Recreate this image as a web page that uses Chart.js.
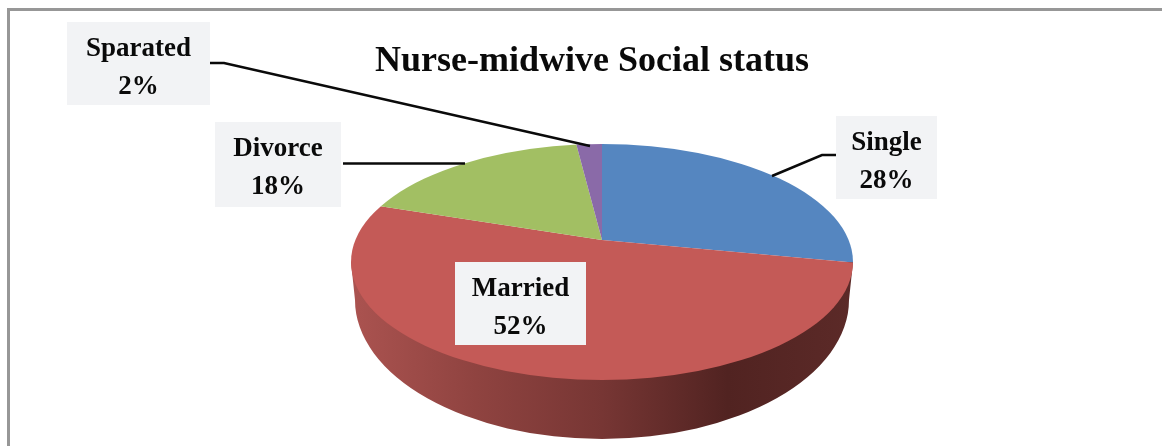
<!DOCTYPE html>
<html>
<head>
<meta charset="utf-8">
<style>
  html, body { margin: 0; padding: 0; background: #ffffff; }
  #wrap { width: 1162px; height: 446px; overflow: hidden; }
  canvas { filter: blur(0.6px); }
</style>
<script src="https://cdn.jsdelivr.net/npm/chart.js@4/dist/chart.umd.js"></script>
</head>
<body>
<div id="wrap"><canvas id="chart"></canvas></div>
<script>
// Values
const categories = ['Single', 'Married', 'Divorce', 'Sparated'];
const shares = [28, 52, 18, 2];
const sliceColors = ['#5586c0', '#c45a57', '#a2bf63', '#8a6aa8'];
const chartTitle = 'Nurse-midwive Social status';

// Settings for the tilted pie
const pieStyle = {
    apexX: 602, apexY: 240,     // where the slices meet
    tilt: 0.47,                 // vertical squash of the slices
    rimX: 602, rimY: 262,       // top face ellipse
    rimRx: 251, rimRy: 118,
    baseX: 602, baseY: 300,     // bottom edge of the side wall
    baseRx: 247, baseRy: 139
};

// Label boxes, same order as categories
const labelBoxes = [
    { x: 836, y: 116, w: 101, h: 83 },
    { x: 455, y: 262, w: 131, h: 83 },
    { x: 215, y: 122, w: 126, h: 85 },
    { x: 67, y: 22, w: 143, h: 83 }
];
const leaderLines = [
    [[836, 155], [822, 155], [772, 176]],
    [],
    [[343, 163.5], [465, 163.5]],
    [[210, 63], [224, 63], [590, 146]]
];

// Grey frame, only top and left show in the crop
const framePlugin = {
    id: 'frame',
    beforeDraw: (chart) => {
        const ctx = chart.ctx;
        ctx.save();
        ctx.strokeStyle = '#979797';
        ctx.lineWidth = 3;
        ctx.beginPath();
        ctx.moveTo(8.5, 446);
        ctx.lineTo(8.5, 9.5);
        ctx.lineTo(1162, 9.5);
        ctx.stroke();
        ctx.restore();
    }
};

// Draws the side wall, then squashes the doughnut controller's arcs into the top face
const tiltPlugin = {
    id: 'tilt',
    beforeDatasetsDraw: (chart) => {
        const ctx = chart.ctx;
        const s = pieStyle;
        const arc = chart.getDatasetMeta(0).data[0];

        ctx.save();
        const wall = ctx.createLinearGradient(s.rimX - s.rimRx, 0, s.rimX + s.rimRx, 0);
        wall.addColorStop(0, '#ab5350');
        wall.addColorStop(0.25, '#8f4340');
        wall.addColorStop(0.5, '#773634');
        wall.addColorStop(0.75, '#512321');
        wall.addColorStop(1, '#5c2a28');
        ctx.fillStyle = wall;
        ctx.beginPath();
        ctx.moveTo(s.rimX - s.rimRx, s.rimY);
        ctx.lineTo(s.baseX - s.baseRx, s.baseY);
        ctx.ellipse(s.baseX, s.baseY, s.baseRx, s.baseRy, 0, Math.PI, 0, true);
        ctx.lineTo(s.rimX + s.rimRx, s.rimY);
        ctx.closePath();
        ctx.fill();
        ctx.restore();

        // restored in afterDatasetsDraw
        ctx.save();
        ctx.beginPath();
        ctx.ellipse(s.rimX, s.rimY, s.rimRx, s.rimRy, 0, 0, Math.PI * 2);
        ctx.clip();
        const k = 400 / arc.outerRadius;
        ctx.translate(s.apexX, s.apexY);
        ctx.scale(k, k * s.tilt);
        ctx.translate(-arc.x, -arc.y);
    },
    afterDatasetsDraw: (chart) => {
        const ctx = chart.ctx;
        ctx.restore();

        ctx.save();
        ctx.strokeStyle = '#0a0a0a';
        ctx.lineWidth = 2.5;
        leaderLines.forEach(points => {
            if (!points.length) return;
            ctx.beginPath();
            points.forEach((p, i) => i ? ctx.lineTo(p[0], p[1]) : ctx.moveTo(p[0], p[1]));
            ctx.stroke();
        });

        ctx.font = "bold 27px 'Liberation Serif', serif";
        ctx.textAlign = 'center';
        ctx.textBaseline = 'alphabetic';
        categories.forEach((name, i) => {
            const box = labelBoxes[i];
            ctx.fillStyle = '#f2f3f5';
            ctx.fillRect(box.x, box.y, box.w, box.h);
            ctx.fillStyle = '#0a0a0a';
            const mid = box.x + box.w / 2;
            ctx.fillText(name, mid, box.y + 34);
            ctx.fillText(shares[i] + '%', mid, box.y + 72);
        });
        ctx.restore();
    }
};

new Chart(document.getElementById('chart'), {
    type: 'pie',
    data: {
        labels: categories,
        datasets: [{
            data: shares,
            backgroundColor: sliceColors,
            borderWidth: 0,
            clip: false
        }]
    },
    options: {
        responsive: true,
        maintainAspectRatio: false,
        animation: false,
        layout: { padding: { left: 22 } },
        plugins: {
            legend: { display: false },
            tooltip: { enabled: false },
            title: {
                display: true,
                text: chartTitle,
                color: '#0a0a0a',
                font: { family: "'Liberation Serif', serif", size: 36, weight: 'bold' },
                padding: { top: 40, bottom: 10 }
            }
        }
    },
    plugins: [framePlugin, tiltPlugin]
});
</script>
</body>
</html>
